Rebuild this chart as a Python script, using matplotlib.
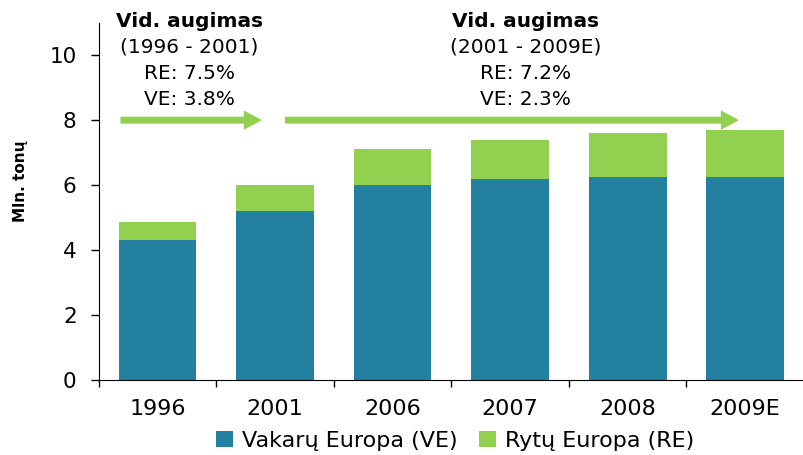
import matplotlib

matplotlib.use("Agg")
import matplotlib.pyplot as plt
import numpy as np

# Data (Mln. tonų)
years = ["1996", "2001", "2006", "2007", "2008", "2009E"]
vakaru = [4.3, 5.2, 6.0, 6.2, 6.25, 6.25]
rytu = [0.55, 0.8, 1.1, 1.2, 1.35, 1.45]

growth_periods = ["(1996 - 2001)", "(2001 - 2009E)"]
growth_re = ["RE: 7.5%", "RE: 7.2%"]
growth_ve = ["VE: 3.8%", "VE: 2.3%"]

BLUE = "#24809f"
GREEN = "#92d050"

plt.rcParams["font.family"] = ["DejaVu Sans"]

fig = plt.figure(figsize=(8.04, 4.55), dpi=100)
ax = fig.add_axes([0.123, 0.165, 0.877, 0.785])

x = np.arange(len(years))
ax.bar(x, vakaru, width=0.66, color=BLUE, label="Vakarų Europa (VE)", zorder=2)
ax.bar(x, rytu, width=0.66, bottom=vakaru, color=GREEN, label="Rytų Europa (RE)", zorder=2)

ax.set_xlim(-0.5, len(years) - 0.5)
ax.set_ylim(0, 11)
ax.set_yticks(range(0, 11, 2))
ax.tick_params(axis="y", labelsize=15.5, length=6, width=1, pad=10)

# category boundaries as ticks, labels at centres
ax.set_xticks(np.arange(-0.5, len(years), 1.0))
ax.set_xticklabels([])
ax.tick_params(axis="x", which="major", length=5, width=1)
ax.set_xticks(x, minor=True)
ax.set_xticklabels(years, minor=True, fontsize=16)
ax.tick_params(axis="x", which="minor", length=0, pad=14)

for side in ("top", "right"):
    ax.spines[side].set_visible(False)

ax.set_ylabel("Mln. tonų", fontsize=11, fontweight="bold")
ax.yaxis.set_label_coords(-0.10, 0.557)

# growth arrows
arrow_kw = dict(arrowstyle="simple,head_width=1.4,head_length=1.3,tail_width=0.5",
                color=GREEN, lw=0)
ax.annotate("", xy=(0.91, 8.0), xytext=(-0.34, 8.0), arrowprops=arrow_kw,
            annotation_clip=False)
ax.annotate("", xy=(4.97, 8.0), xytext=(1.06, 8.0), arrowprops=arrow_kw,
            annotation_clip=False)

# growth annotations
centres = [0.27, 3.13]
for cx, period, re_txt, ve_txt in zip(centres, growth_periods, growth_re, growth_ve):
    ax.text(cx, 11.05, "Vid. augimas", ha="center", va="center", fontsize=14.5,
            fontweight="bold", clip_on=False)
    ax.text(cx, 10.25, period, ha="center", va="center", fontsize=14.5, clip_on=False)
    ax.text(cx, 9.45, re_txt, ha="center", va="center", fontsize=14.5, clip_on=False)
    ax.text(cx, 8.65, ve_txt, ha="center", va="center", fontsize=14.5, clip_on=False)

fig.legend(loc="lower center", bbox_to_anchor=(0.566, -0.035), ncol=2, frameon=False,
           fontsize=16, handlelength=0.75, handleheight=0.75, handletextpad=0.4,
           columnspacing=1.0)

fig.savefig("out.png", dpi=100)
